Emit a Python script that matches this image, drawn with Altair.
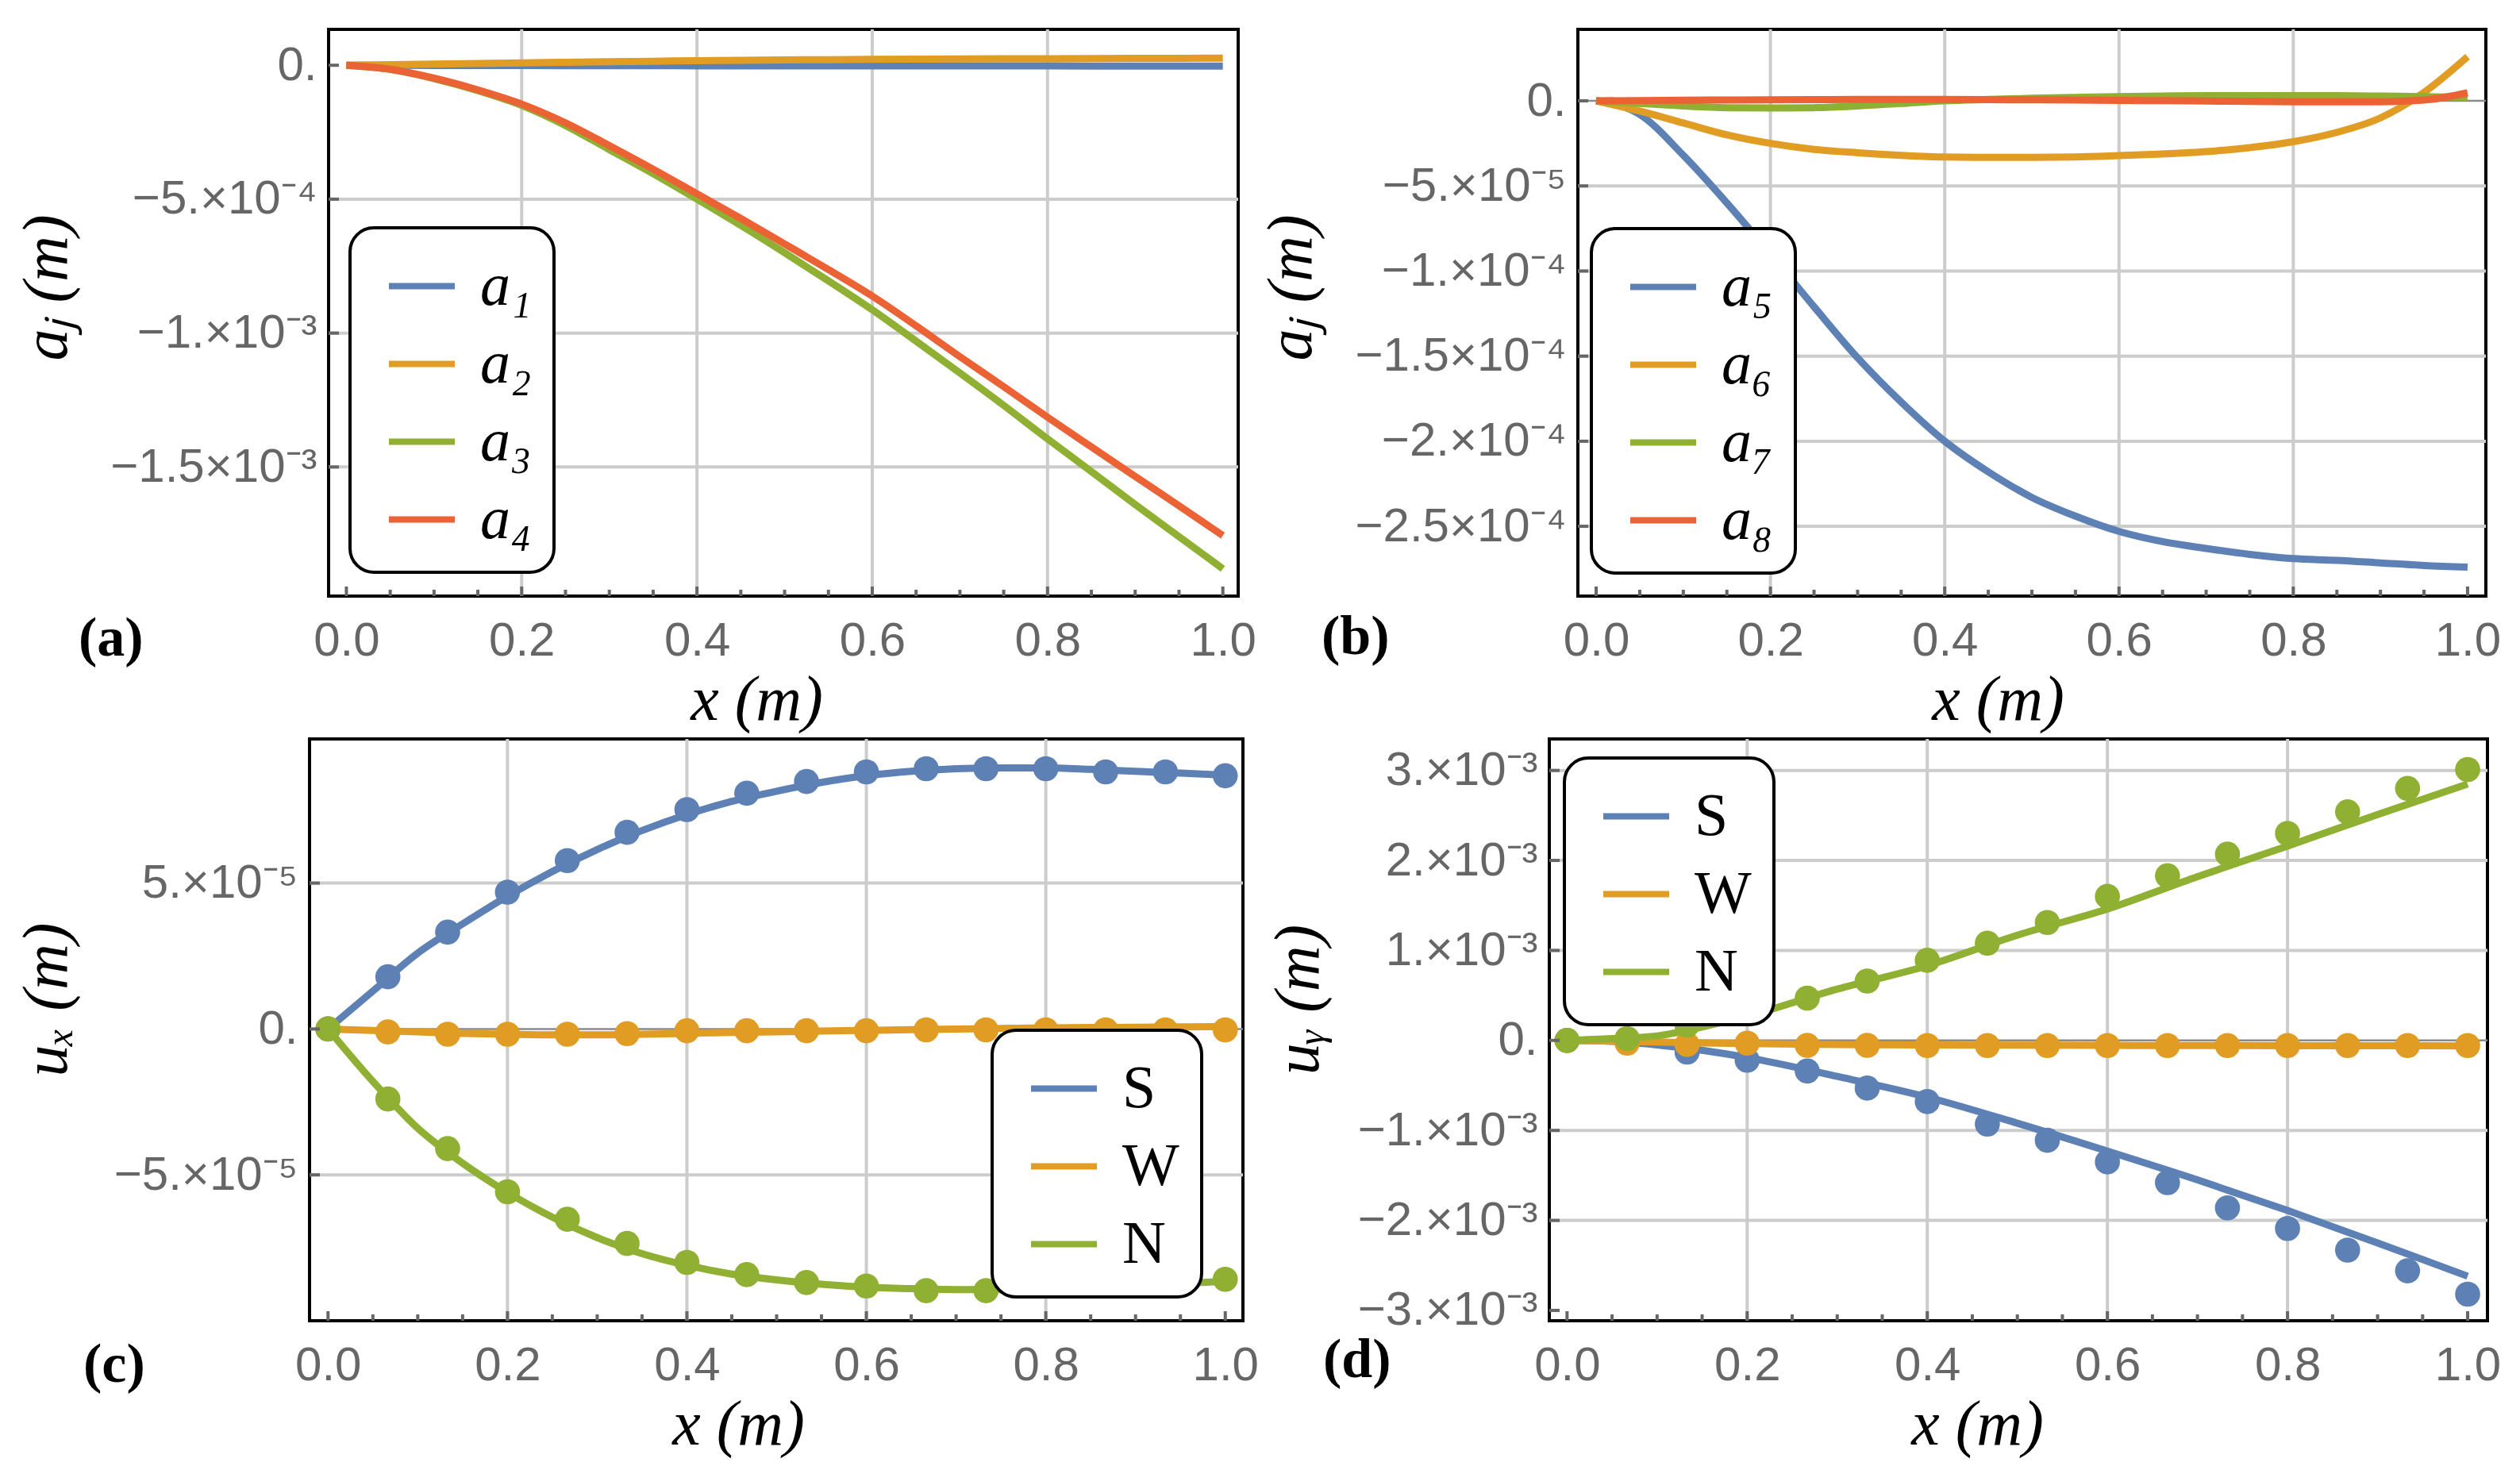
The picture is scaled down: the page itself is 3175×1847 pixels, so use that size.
import json
import altair as alt
import pandas as pd

# ---------------- data ----------------
X_LINE = [0.0, 0.05, 0.1, 0.15, 0.2, 0.25, 0.3, 0.35, 0.4, 0.45, 0.5,
          0.55, 0.6, 0.65, 0.7, 0.75, 0.8, 0.85, 0.9, 0.95, 1.0]
X_LINE_D = [0.0, 0.05, 0.1, 0.15, 0.2, 0.3, 0.4, 0.5, 0.6, 0.7, 0.8, 0.9, 1.0]
X_DOTS = [0.0, 0.0667, 0.1333, 0.2, 0.2667, 0.3333, 0.4, 0.4667, 0.5333,
          0.6, 0.6667, 0.7333, 0.8, 0.8667, 0.9333, 1.0]

# panel (a)
A1 = [0, -0.3e-6, -0.6e-6, -0.9e-6, -1.2e-6, -1.4e-6, -1.6e-6, -1.8e-6, -2e-6, -2.1e-6, -2.2e-6,
      -2.3e-6, -2.4e-6, -2.5e-6, -2.5e-6, -2.6e-6, -2.6e-6, -2.7e-6, -2.7e-6, -2.8e-6, -2.8e-6]
A2 = [0, 2e-6, 4e-6, 6.5e-6, 9e-6, 1.1e-5, 1.3e-5, 1.5e-5, 1.7e-5, 1.85e-5, 2.0e-5,
      2.1e-5, 2.2e-5, 2.3e-5, 2.35e-5, 2.4e-5, 2.45e-5, 2.5e-5, 2.55e-5, 2.6e-5, 2.65e-5]
A3 = [0, -1.5e-5, -5e-5, -9.5e-5, -1.5e-4, -2.25e-4, -3.15e-4, -4.05e-4, -5.0e-4, -5.98e-4, -7.0e-4,
      -8.05e-4, -9.13e-4, -1.03e-3, -1.149e-3, -1.27e-3, -1.395e-3, -1.517e-3, -1.64e-3, -1.76e-3, -1.88e-3]
A4 = [0, -1.5e-5, -4.8e-5, -9.2e-5, -1.45e-4, -2.15e-4, -3.0e-4, -3.88e-4, -4.8e-4, -5.72e-4, -6.67e-4,
      -7.63e-4, -8.62e-4, -9.73e-4, -1.088e-3, -1.2e-3, -1.314e-3, -1.425e-3, -1.535e-3, -1.645e-3, -1.756e-3]

# panel (b)
A5 = [0, -8e-6, -3.2e-5, -6e-5, -9e-5, -1.21e-4, -1.51e-4, -1.77e-4, -2.0e-4, -2.18e-4, -2.33e-4,
      -2.44e-4, -2.53e-4, -2.59e-4, -2.63e-4, -2.665e-4, -2.69e-4, -2.70e-4, -2.715e-4, -2.73e-4, -2.74e-4]
A6 = [0, -6e-6, -1.3e-5, -2e-5, -2.5e-5, -2.85e-5, -3.05e-5, -3.2e-5, -3.3e-5, -3.32e-5, -3.32e-5,
      -3.3e-5, -3.22e-5, -3.12e-5, -2.98e-5, -2.75e-5, -2.4e-5, -1.85e-5, -1.0e-5, 5e-6, 2.6e-5]
A7 = [0, -1.5e-6, -3e-6, -4e-6, -4.2e-6, -4e-6, -3e-6, -1.5e-6, 0, 0.8e-6, 1.5e-6,
      2e-6, 2.5e-6, 2.8e-6, 3e-6, 3e-6, 3e-6, 3e-6, 2.8e-6, 2.5e-6, 2e-6]
A8 = [0, 0.2e-6, 0.4e-6, 0.5e-6, 0.6e-6, 0.7e-6, 0.8e-6, 0.8e-6, 0.8e-6, 0.7e-6, 0.6e-6,
      0.5e-6, 0.3e-6, 0.1e-6, -0.1e-6, -0.3e-6, -0.5e-6, -0.6e-6, -0.5e-6, 0.5e-6, 4.7e-6]

# panel (c): u_x
C_S_LINE = [0, 1.3e-5, 2.6e-5, 3.6e-5, 4.55e-5, 5.4e-5, 6.15e-5, 6.8e-5, 7.35e-5, 7.8e-5, 8.15e-5,
            8.45e-5, 8.68e-5, 8.83e-5, 8.92e-5, 8.95e-5, 8.95e-5, 8.9e-5, 8.83e-5, 8.77e-5, 8.7e-5]
C_W_LINE = [0, -0.5e-6, -1e-6, -1.5e-6, -1.8e-6, -2e-6, -2e-6, -1.8e-6, -1.5e-6, -1.2e-6, -1e-6,
            -0.7e-6, -0.5e-6, -0.2e-6, 0, 0.2e-6, 0.4e-6, 0.5e-6, 0.6e-6, 0.7e-6, 0.8e-6]
C_N_LINE = [0, -1.8e-5, -3.4e-5, -4.6e-5, -5.6e-5, -6.45e-5, -7.15e-5, -7.7e-5, -8.1e-5, -8.4e-5, -8.6e-5,
            -8.75e-5, -8.85e-5, -8.9e-5, -8.93e-5, -8.93e-5, -8.9e-5, -8.85e-5, -8.8e-5, -8.72e-5, -8.65e-5]
C_S_DOTS = [0, 1.79e-5, 3.32e-5, 4.69e-5, 5.77e-5, 6.74e-5, 7.52e-5, 8.08e-5, 8.48e-5, 8.81e-5,
            8.92e-5, 8.92e-5, 8.92e-5, 8.81e-5, 8.81e-5, 8.68e-5]
C_W_DOTS = [0, -1e-6, -1.8e-6, -1.8e-6, -1.8e-6, -1.6e-6, -0.6e-6, -0.6e-6, -0.6e-6, -0.6e-6,
            -0.3e-6, -0.3e-6, -0.3e-6, -0.3e-6, -0.3e-6, -0.3e-6]
C_N_DOTS = [0, -2.4e-5, -4.1e-5, -5.58e-5, -6.52e-5, -7.35e-5, -8.0e-5, -8.42e-5, -8.69e-5, -8.81e-5,
            -8.97e-5, -8.97e-5, -8.81e-5, -8.81e-5, -8.65e-5, -8.58e-5]

# panel (d): u_y
D_S_LINE = [0, -0.01e-3, -0.05e-3, -0.11e-3, -0.19e-3, -0.40e-3, -0.63e-3, -0.92e-3, -1.23e-3,
            -1.55e-3, -1.89e-3, -2.25e-3, -2.62e-3]
D_W_LINE = [0, -0.008e-3, -0.018e-3, -0.027e-3, -0.035e-3, -0.045e-3, -0.05e-3, -0.053e-3, -0.055e-3,
            -0.057e-3, -0.058e-3, -0.059e-3, -0.06e-3]
D_N_LINE = [0, 0.02e-3, 0.05e-3, 0.15e-3, 0.27e-3, 0.57e-3, 0.83e-3, 1.17e-3, 1.46e-3,
            1.82e-3, 2.16e-3, 2.51e-3, 2.85e-3]
D_S_DOTS = [0, -0.005e-3, -0.13e-3, -0.22e-3, -0.34e-3, -0.53e-3, -0.68e-3, -0.93e-3, -1.11e-3,
            -1.35e-3, -1.58e-3, -1.86e-3, -2.09e-3, -2.33e-3, -2.56e-3, -2.82e-3]
D_W_DOTS = [0, -0.03e-3, -0.045e-3, -0.03e-3, -0.055e-3, -0.055e-3, -0.057e-3, -0.057e-3, -0.057e-3,
            -0.057e-3, -0.057e-3, -0.057e-3, -0.057e-3, -0.057e-3, -0.057e-3, -0.057e-3]
D_N_DOTS = [0, 0.02e-3, 0.17e-3, 0.32e-3, 0.47e-3, 0.66e-3, 0.89e-3, 1.08e-3, 1.31e-3,
            1.60e-3, 1.83e-3, 2.07e-3, 2.30e-3, 2.54e-3, 2.80e-3, 3.01e-3]

# legend names
NAMES_A = ["a₁", "a₂", "a₃", "a₄"]
NAMES_B = ["a₅", "a₆", "a₇", "a₈"]
NAMES_UV = ["S", "W", "N"]

# ticks / labels
X_LABELS = [0.0, 0.2, 0.4, 0.6, 0.8, 1.0]
X_MINOR = [0.05, 0.1, 0.15, 0.25, 0.3, 0.35, 0.45, 0.5, 0.55, 0.65, 0.7, 0.75, 0.85, 0.9, 0.95]
X_GRID = [0.2, 0.4, 0.6, 0.8]

YA_VALS = [0.0, -5e-4, -1e-3, -1.5e-3]
YA_TEXT = ["0.", "−5.×10⁻⁴", "−1.×10⁻³", "−1.5×10⁻³"]
YA_GRID = [-5e-4, -1e-3, -1.5e-3]
YB_VALS = [0.0, -5e-5, -1e-4, -1.5e-4, -2e-4, -2.5e-4]
YB_TEXT = ["0.", "−5.×10⁻⁵", "−1.×10⁻⁴", "−1.5×10⁻⁴", "−2.×10⁻⁴", "−2.5×10⁻⁴"]
YB_GRID = [-5e-5, -1e-4, -1.5e-4, -2e-4, -2.5e-4]
YC_VALS = [5e-5, 0.0, -5e-5]
YC_TEXT = ["5.×10⁻⁵", "0.", "−5.×10⁻⁵"]
YC_GRID = [5e-5, -5e-5]
YD_VALS = [3e-3, 2e-3, 1e-3, 0.0, -1e-3, -2e-3, -3e-3]
YD_TEXT = ["3.×10⁻³", "2.×10⁻³", "1.×10⁻³", "0.", "−1.×10⁻³", "−2.×10⁻³", "−3.×10⁻³"]
YD_GRID = [3e-3, 2e-3, 1e-3, -1e-3, -2e-3]

PANEL_LABELS = ["(a)", "(b)", "(c)", "(d)"]
X_TITLE = "x (m)"
Y_TITLES = ["aⱼ (m)", "aⱼ (m)", "uₓ (m)", "uᵧ (m)"]

# ---------------- style ----------------
BLUE, ORANGE, GREEN, RED = "#5E81B5", "#E19C24", "#8FB032", "#EB6235"
SANS = "Liberation Sans"
SERIF = "Liberation Serif"
LABEL_GRAY = "#666666"
GRID_C = "#cccccc"
TICK_C = "#666666"
TITLE_SIZE = 80


def long_df(xs, names, series):
    rows = []
    for n, vals in zip(names, series):
        for x, y in zip(xs, vals):
            rows.append({"x": x, "y": y, "s": n})
    return pd.DataFrame(rows)


def make_panel(lines, dots, names, colors, xdom, ydom, W, H, yvals, ytext, ygrid,
               zero, ytitle, yext, title_xy, leg_xy, leg_italic, plabel, pl_dx, pl_dy):
    xs = alt.Scale(domain=xdom, nice=False, zero=False)
    ys = alt.Scale(domain=ydom, nice=False, zero=False)
    xaxis = alt.Axis(values=X_LABELS, format=".1f", grid=False, ticks=False, domain=False,
                     labelFont=SANS, labelFontSize=60, labelColor=LABEL_GRAY, labelPadding=27,
                     labelFlush=False, labelOverlap=False,
                     title=X_TITLE, titleFont=SERIF, titleFontSize=TITLE_SIZE,
                     titleFontWeight="normal", titleFontStyle="italic", titleColor="black",
                     titlePadding=12, titleX=title_xy[0], minExtent=80, maxExtent=80)
    lab_expr = "%s[indexof(%s, datum.value)]" % (json.dumps(ytext, ensure_ascii=False),
                                                  json.dumps(yvals))
    yaxis = alt.Axis(values=yvals, labelExpr=lab_expr, grid=False, ticks=False, domain=False,
                     labelFont=SANS, labelFontSize=60, labelColor=LABEL_GRAY, labelPadding=15,
                     labelFlush=False, labelOverlap=False, labelBaseline="middle", labelLimit=600,
                     title=ytitle, titleFont=SERIF, titleFontSize=TITLE_SIZE,
                     titleFontWeight="normal", titleFontStyle="italic", titleColor="black",
                     titlePadding=20, titleY=title_xy[1], minExtent=yext, maxExtent=yext)

    def X():
        return alt.X("x:Q", scale=xs, axis=xaxis)

    def Y():
        return alt.Y("y:Q", scale=ys, axis=yaxis)

    layers = [
        alt.Chart(pd.DataFrame({"x": X_GRID})).mark_rule(color=GRID_C, strokeWidth=4).encode(x=X()),
        alt.Chart(pd.DataFrame({"y": ygrid})).mark_rule(color=GRID_C, strokeWidth=4).encode(y=Y()),
    ]
    if zero:
        layers.append(alt.Chart(pd.DataFrame({"y": [0.0]}))
                      .mark_rule(color="#8a8a8a", strokeWidth=2.5).encode(y=Y()))
    legend = alt.Legend(orient="none", legendX=leg_xy[0], legendY=leg_xy[1], title=None,
                        symbolType="stroke", symbolSize=6889, symbolStrokeWidth=8,
                        labelFont=SERIF, labelFontSize=76, labelColor="black",
                        labelFontStyle="italic" if leg_italic else "normal",
                        padding=28, rowPadding=14, labelOffset=28, symbolOffset=17,
                        cornerRadius=30, strokeColor="black", fillColor="white")
    cscale = alt.Scale(domain=names, range=colors)
    layers.append(alt.Chart(lines).mark_line(strokeWidth=9, interpolate="monotone")
                  .encode(x=X(), y=Y(), color=alt.Color("s:N", scale=cscale, legend=legend)))
    if dots is not None:
        layers.append(alt.Chart(dots).mark_circle(size=1000, opacity=1)
                      .encode(x=X(), y=Y(), color=alt.Color("s:N", scale=cscale, legend=None)))
    # inward ticks
    layers.append(alt.Chart(pd.DataFrame({"x": X_LABELS})).mark_rule(color=TICK_C, strokeWidth=4)
                  .encode(x=X(), y=alt.value(H - 12), y2=alt.value(H)))
    layers.append(alt.Chart(pd.DataFrame({"x": X_MINOR})).mark_rule(color=TICK_C, strokeWidth=4)
                  .encode(x=X(), y=alt.value(H - 8), y2=alt.value(H)))
    layers.append(alt.Chart(pd.DataFrame({"y": yvals})).mark_rule(color=TICK_C, strokeWidth=4)
                  .encode(y=Y(), x=alt.value(0), x2=alt.value(13)))
    # panel label
    layers.append(alt.Chart(pd.DataFrame({"t": [plabel]}))
                  .mark_text(font=SERIF, fontSize=70, fontWeight="bold", align="left",
                             baseline="top", color="black")
                  .encode(x=alt.value(pl_dx), y=alt.value(H + pl_dy), text="t:N"))
    return alt.layer(*layers).properties(width=W, height=H)


def spacer(w):
    return (alt.Chart(pd.DataFrame({"t": [0]}))
            .mark_rule(opacity=0)
            .encode(x=alt.value(0))
            .properties(width=w, height=1, view=alt.ViewBackground(strokeOpacity=0)))


pa = make_panel(long_df(X_LINE, NAMES_A, [A1, A2, A3, A4]), None, NAMES_A,
                [BLUE, ORANGE, GREEN, RED], [-0.0203, 1.0175], [-1.982e-3, 1.34e-4],
                1146, 714, YA_VALS, YA_TEXT, YA_GRID, False, Y_TITLES[0], 294,
                (539, 325), (27, 250), True, PANEL_LABELS[0], -315, 20)
pb = make_panel(long_df(X_LINE, NAMES_B, [A5, A6, A7, A8]), None, NAMES_B,
                [BLUE, ORANGE, GREEN, RED], [-0.021, 1.021], [-2.91e-4, 4.2e-5],
                1144, 714, YB_VALS, YB_TEXT, YB_GRID, True, Y_TITLES[1], 300,
                (529, 325), (17, 251), True, PANEL_LABELS[1], -323, 18)
pc = make_panel(long_df(X_LINE, NAMES_UV, [C_S_LINE, C_W_LINE, C_N_LINE]),
                long_df(X_DOTS, NAMES_UV, [C_S_DOTS, C_W_DOTS, C_N_DOTS]), NAMES_UV,
                [BLUE, ORANGE, GREEN], [-0.0206, 1.0197], [-1.0e-4, 0.994e-4],
                1176, 733, YC_VALS, YC_TEXT, YC_GRID, True, Y_TITLES[2], 270,
                (540, 328), (860, 367), False, PANEL_LABELS[2], -285, 22)
pd_ = make_panel(long_df(X_LINE_D, NAMES_UV, [D_S_LINE, D_W_LINE, D_N_LINE]),
                 long_df(X_DOTS, NAMES_UV, [D_S_DOTS, D_W_DOTS, D_N_DOTS]), NAMES_UV,
                 [BLUE, ORANGE, GREEN], [-0.0197, 1.022], [-3.115e-3, 3.35e-3],
                 1182, 733, YD_VALS, YD_TEXT, YD_GRID, True, Y_TITLES[3], 255,
                 (539, 328), (19, 24), False, PANEL_LABELS[3], -285, 16)

row1 = alt.hconcat(spacer(1), pa, pb, spacing=0).resolve_scale(color="independent")
row2 = alt.hconcat(spacer(1), pc, spacer(6), pd_, spacing=0).resolve_scale(color="independent")

chart = (
    alt.vconcat(row1, row2, spacing=3)
    .resolve_scale(color="independent")
    .properties(padding={"left": 8, "top": 25, "right": 5, "bottom": 5}, background="white")
    .configure_view(stroke="black", strokeWidth=4)
    .configure_legend(strokeWidth=4)
)

chart.save("out.html", embed_options={"renderer": "svg", "actions": False})
